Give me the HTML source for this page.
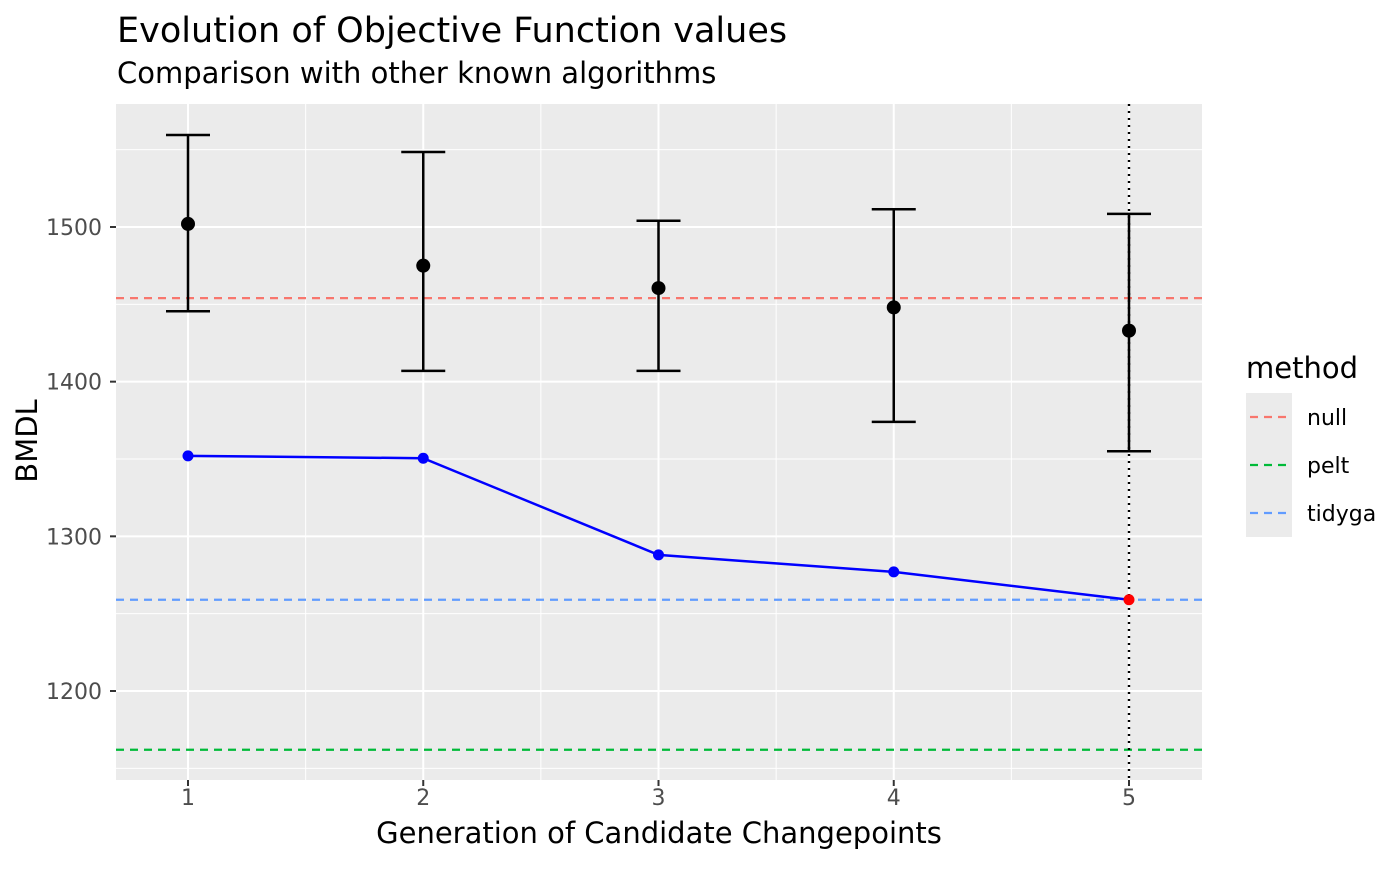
<!DOCTYPE html>
<html><head><meta charset="utf-8"><style>
body{margin:0;background:#fff}
svg{font-family:"DejaVu Sans","Liberation Sans",sans-serif}
</style></head><body>
<svg id="c" width="1400" height="866" xmlns="http://www.w3.org/2000/svg"></svg>
<script>
const gens=[1,2,3,4,5];
const meanVals=[1502,1475,1460.5,1448,1433];
const upperVals=[1559.5,1548.5,1504,1511.5,1508.5];
const lowerVals=[1445.5,1407,1407,1374,1355];
const bestVals=[1352,1350.5,1288,1277,1259];
const refNames=["null","pelt","tidyga"];
const refVals=[1454,1162,1259];
const refColors=["#F8766D","#00BA38","#619CFF"];
const yTicks=[1200,1300,1400,1500];
const yMinor=[1150,1250,1350,1450,1550];
const xMinor=[1.5,2.5,3.5,4.5];
const selGen=5;

const L=116,R=1202,T=104,B=780;
const xs=v=>188+(v-1)*235.25;
const ys=v=>691-(v-1200)*1.5467;
const svg=document.getElementById('c');
const NS="http://www.w3.org/2000/svg";
function mk(tag,attrs,name,parent){const e=document.createElementNS(NS,tag);for(const k in attrs)e.setAttribute(k,attrs[k]);


(parent||svg).appendChild(e);return e;}
function txt(s,attrs,name){const e=mk('text',attrs,name);e.textContent=s;return e;}

mk('rect',{x:L,y:T,width:R-L,height:B-T,fill:'#EBEBEB'},'panel-background');
yMinor.forEach(v=>mk('line',{x1:L,x2:R,y1:ys(v),y2:ys(v),stroke:'#fff','stroke-width':1},'y-minor-gridline'));
xMinor.forEach(v=>mk('line',{x1:xs(v),x2:xs(v),y1:T,y2:B,stroke:'#fff','stroke-width':1},'x-minor-gridline'));
yTicks.forEach(v=>mk('line',{x1:L,x2:R,y1:ys(v),y2:ys(v),stroke:'#fff','stroke-width':2},'y-major-gridline'));
gens.forEach(v=>mk('line',{x1:xs(v),x2:xs(v),y1:T,y2:B,stroke:'#fff','stroke-width':2},'x-major-gridline'));

refVals.forEach((v,i)=>mk('line',{x1:L,x2:R,y1:ys(v),y2:ys(v),stroke:refColors[i],'stroke-width':2.2,'stroke-dasharray':'8,6'},'ref-line-'+refNames[i]));
mk('line',{x1:xs(selGen),x2:xs(selGen),y1:T,y2:B,stroke:'#000','stroke-width':2.4,'stroke-dasharray':'2,5'},'selected-generation-line');

gens.forEach((g,i)=>{const x=xs(g);
 mk('line',{x1:x,x2:x,y1:ys(upperVals[i]),y2:ys(lowerVals[i]),stroke:'#000','stroke-width':2.5},'error-bar');
 mk('line',{x1:x-22,x2:x+22,y1:ys(upperVals[i]),y2:ys(upperVals[i]),stroke:'#000','stroke-width':2.5},'error-bar-top');
 mk('line',{x1:x-22,x2:x+22,y1:ys(lowerVals[i]),y2:ys(lowerVals[i]),stroke:'#000','stroke-width':2.5},'error-bar-bottom');
 mk('circle',{cx:x,cy:ys(meanVals[i]),r:7,fill:'#000'},'mean-point');
});
mk('polyline',{points:gens.map((g,i)=>xs(g)+','+ys(bestVals[i])).join(' '),fill:'none',stroke:'#0000FF','stroke-width':2.5},'best-line');
gens.forEach((g,i)=>mk('circle',{cx:xs(g),cy:ys(bestVals[i]),r:5.5,fill:g===selGen?'#FF0000':'#0000FF'},'best-point'));

yTicks.forEach(v=>{mk('line',{x1:L-6,x2:L,y1:ys(v),y2:ys(v),stroke:'#333','stroke-width':2},'y-tick');
 txt(v,{x:L-14,y:ys(v)+8,'text-anchor':'end','font-size':22,fill:'#4D4D4D'},'y-tick-label');});
gens.forEach(v=>{mk('line',{x1:xs(v),x2:xs(v),y1:B,y2:B+6,stroke:'#333','stroke-width':2},'x-tick');
 txt(v,{x:xs(v),y:B+25,'text-anchor':'middle','font-size':22,fill:'#4D4D4D'},'x-tick-label');});

txt('Generation of Candidate Changepoints',{x:(L+R)/2,y:843,'text-anchor':'middle','font-size':29},'x-axis-title');
txt('BMDL',{x:37,y:441,'text-anchor':'middle','font-size':29,transform:'rotate(-90 37 441)'},'y-axis-title');
txt('Evolution of Objective Function values',{x:117,y:42,'font-size':35},'chart-title');
txt('Comparison with other known algorithms',{x:117,y:83,'font-size':29},'chart-subtitle');

txt('method',{x:1246,y:378,'font-size':29},'legend-title');
refNames.forEach((n,i)=>{const y=393+i*48;
 mk('rect',{x:1246,y:y,width:46,height:48,fill:'#EBEBEB'},'legend-key');
 mk('line',{x1:1250,x2:1288,y1:y+24,y2:y+24,stroke:refColors[i],'stroke-width':2.2,'stroke-dasharray':'8,6'},'legend-key-line');
 txt(n,{x:1307,y:y+32,'font-size':22},'legend-label-'+n);});
</script>
</body></html>
